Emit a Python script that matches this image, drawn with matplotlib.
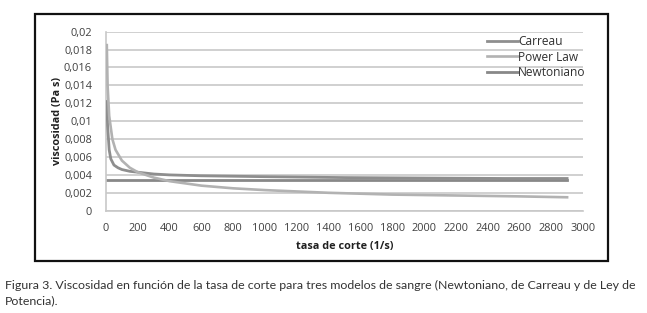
import matplotlib
matplotlib.use("Agg")
import matplotlib.pyplot as plt
from matplotlib.patches import Rectangle

# ---- data ----
carreau_x = [5, 10, 20, 30, 50, 75, 100, 150, 200, 300, 400, 600, 800, 1000, 1500, 2000, 2500, 2900]
carreau_y = [0.0122, 0.0095, 0.0068, 0.0058, 0.0051, 0.0048, 0.0046, 0.0044, 0.0043, 0.0041,
             0.0040, 0.0039, 0.00385, 0.0038, 0.0037, 0.00365, 0.0036, 0.0036]
power_x = [5, 10, 20, 40, 60, 100, 150, 200, 300, 400, 600, 800, 1000, 1400, 1800, 2200, 2600, 2900]
power_y = [0.0185, 0.0140, 0.0106, 0.0080, 0.0068, 0.0056, 0.0048, 0.0043, 0.0037, 0.0033,
           0.0028, 0.0025, 0.0023, 0.0020, 0.0018, 0.0017, 0.0016, 0.0015]
newton_x = [0, 2900]
newton_y = [0.00345, 0.00345]

x_ticks = list(range(0, 3001, 200))
y_ticks = [0, 0.002, 0.004, 0.006, 0.008, 0.01, 0.012, 0.014, 0.016, 0.018, 0.02]
y_tick_labels = ["0", "0,002", "0,004", "0,006", "0,008", "0,01", "0,012", "0,014", "0,016", "0,018", "0,02"]
series_names = ["Carreau", "Power Law", "Newtoniano"]
caption = ("Figura 3. Viscosidad en función de la tasa de corte para tres modelos de sangre "
           "(Newtoniano, de Carreau y de Ley de\nPotencia).")

W, H = 647, 313
fig = plt.figure(figsize=(W / 100, H / 100), dpi=100)
fig.patch.set_facecolor("white")

font = "Open Sans"
tick_color = "#404040"

ax = fig.add_axes([106 / W, 1 - 210.7 / H, (583 - 106) / W, (210.7 - 31.7) / H])
ax.set_xlim(0, 3000)
ax.set_ylim(0, 0.02)

ax.plot(carreau_x, carreau_y, color="#8e8e8e", lw=2.0, label=series_names[0], zorder=3)
ax.plot(power_x, power_y, color="#b2b2b2", lw=1.9, label=series_names[1], zorder=3)
ax.plot(newton_x, newton_y, color="#888888", lw=2.0, label=series_names[2], zorder=2)

ax.set_xticks(x_ticks)
ax.set_xticklabels([str(t) for t in x_ticks], fontsize=7.9, family=font, color=tick_color)
ax.set_yticks(y_ticks)
ax.set_yticklabels(y_tick_labels, fontsize=7.9, family=font, color=tick_color)
ax.tick_params(axis="y", length=0, pad=10)
ax.tick_params(axis="x", length=0, pad=9)
ax.grid(axis="y", color="#c8c8c8", lw=1.2)
ax.set_axisbelow(True)
for s in ["top", "right"]:
    ax.spines[s].set_visible(False)
ax.spines["left"].set_color("#c8c8c8")
ax.spines["left"].set_linewidth(1.2)
ax.spines["bottom"].set_color("#c8c8c8")
ax.spines["bottom"].set_linewidth(1.2)

ax.set_xlabel("tasa de corte (1/s)", fontsize=7.8, family=font, fontweight="bold", color="#202020", labelpad=5)
ax.set_ylabel("viscosidad (Pa s)", fontsize=7.8, family=font, fontweight="bold", color="#202020", labelpad=1)

leg = ax.legend(loc="upper right", bbox_to_anchor=(1.02, 1.02), frameon=False,
                prop={"family": font, "size": 8.6}, handlelength=2.6, handletextpad=0.0,
                labelspacing=0.2, borderaxespad=0.2)
for t in leg.get_texts():
    t.set_color("#303030")

fig.patches.append(Rectangle((35 / W, 1 - 261 / H), (608 - 35) / W, (261 - 14) / H,
                             transform=fig.transFigure, fill=False, edgecolor="#111111", lw=1.6))

fig.text(5 / W, 1 - 280 / H, caption, fontsize=8.9, family="Lato", color="#333333",
         va="top", ha="left", linespacing=1.5)

fig.savefig("out.png", dpi=100)
